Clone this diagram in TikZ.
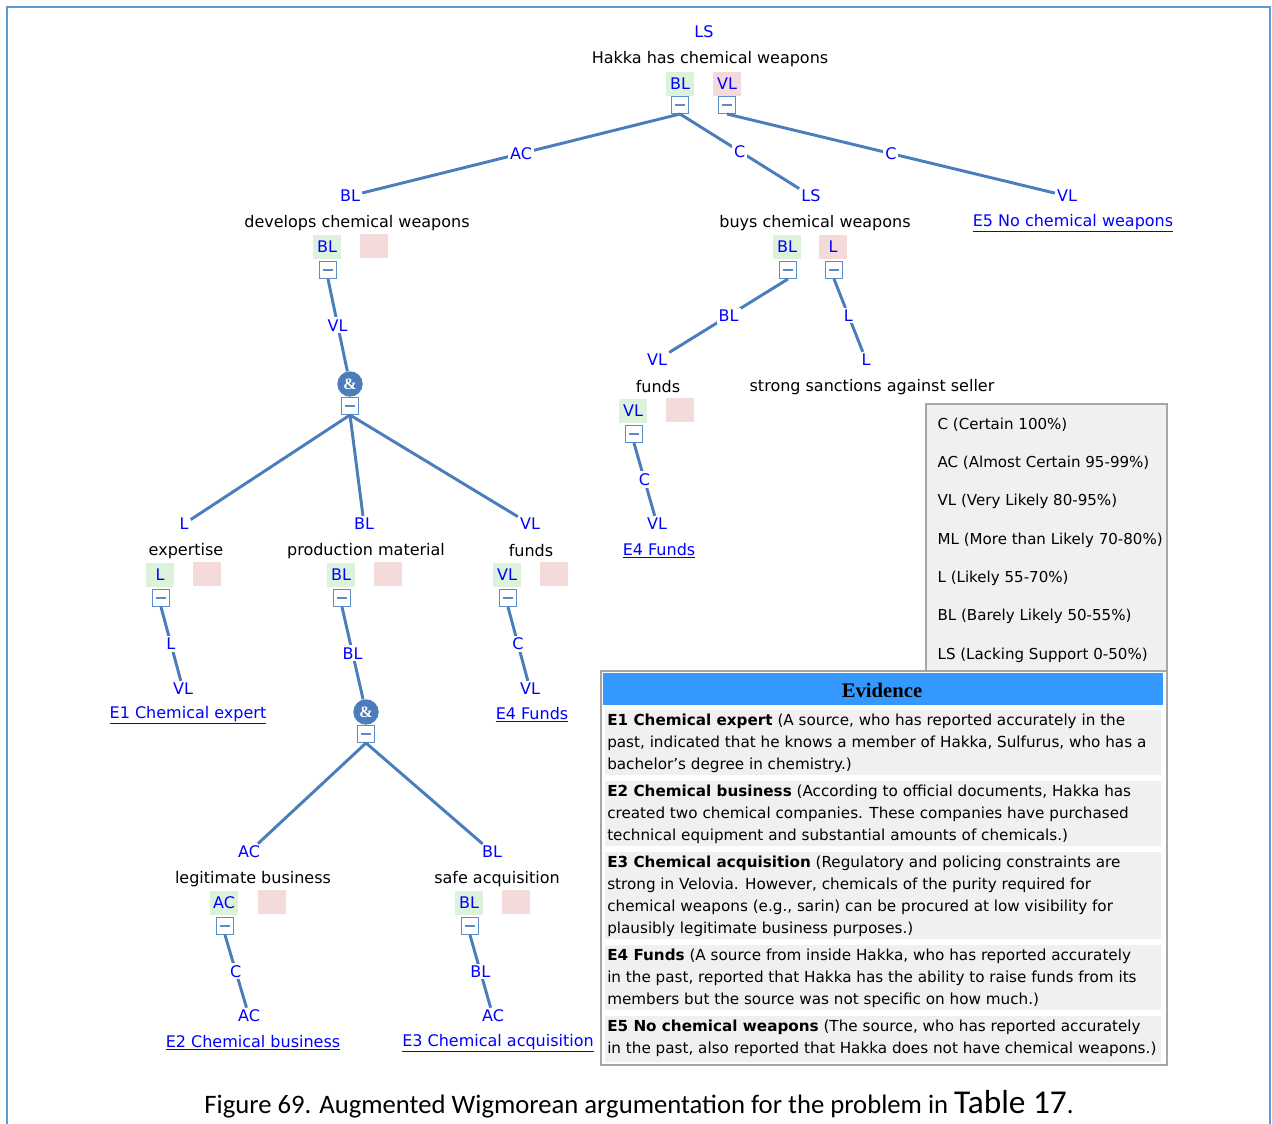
\documentclass[tikz,border=0pt]{standalone}
\usepackage{fontspec}
\setmainfont{DejaVu Sans}
\newfontfamily\capfont{Carlito}
\newfontfamily\headfont{Liberation Serif}
\usepackage{tikz}
\usetikzlibrary{positioning}
\definecolor{myline}{RGB}{74,126,187}
\definecolor{myfold}{RGB}{90,140,200}
\definecolor{myframe}{RGB}{91,155,213}
\definecolor{mygreen}{RGB}{221,242,219}
\definecolor{mypink}{RGB}{245,218,218}
\definecolor{mygray}{RGB}{240,240,240}
\definecolor{myhead}{RGB}{51,153,255}

\begin{document}
\begin{tikzpicture}[x=0.75pt, y=-0.75pt,
  every node/.style={font=\fontsize{12}{14}\selectfont, inner sep=1pt},
  rate/.style={text=blue, inner sep=1.5pt},
  claim/.style={text=black},
  okbox/.style={fill=mygreen, text=blue, minimum width=21pt,
                minimum height=18.5pt, inner sep=0pt},
  nobox/.style={okbox, fill=mypink},
  fold/.style={draw=myfold, line width=1pt, fill=white, minimum size=12.5pt,
               inner sep=0pt,
               path picture={\draw[myfold, line width=1pt]
                 ([xshift=-3.5pt]path picture bounding box.center) --
                 ([xshift=3.5pt]path picture bounding box.center);}},
  andnode/.style={circle, fill=myline, text=white, minimum size=19pt,
                  inner sep=0pt, font=\headfont\bfseries\fontsize{12}{12}\selectfont},
  link/.style={draw=myline, line width=2.2pt},
  mid/.style={fill=white, text=blue, inner sep=1.5pt},
  evid/.style={text=blue},
  evrow/.style={anchor=north west, align=left, inner sep=0pt,
                font=\fontsize{11.4}{16.3}\selectfont}]
  \useasboundingbox (0,0) rectangle (1272,1124);
  % frame
  \draw[myframe, line width=2.2pt] (7,1124) -- (7,7) -- (1270,7) -- (1270,1124);

  % root claim
  \node[rate]  (rootR)  at (704,32)  {LS};
  \node[claim] (root)   at (710,59)  {Hakka has chemical weapons};
  \node[okbox] (rootP)  at (680,84)  {BL};
  \node[nobox] (rootN)  at (727,84)  {VL};
  \node[fold]  (rootPf) at (680,105) {};
  \node[fold]  (rootNf) at (727,105) {};

  % develops
  \node[rate]  (devR)  at (350,196) {BL};
  \node[claim] (dev)   at (357,223) {develops chemical weapons};
  \node[okbox] (devP)  at (327,247) {BL};
  \node[nobox] (devN)  at (374,246) {};
  \node[fold]  (devPf) at (328,270) {};
  \node[andnode] (and1)  at (350,384) {\&};
  \node[fold]    (and1f) at (350,406) {};

  % buys
  \node[rate]  (buyR)  at (811,196) {LS};
  \node[claim] (buy)   at (815,223) {buys chemical weapons};
  \node[okbox] (buyP)  at (787,247) {BL};
  \node[nobox] (buyN)  at (833,247) {L};
  \node[fold]  (buyPf) at (788,270) {};
  \node[fold]  (buyNf) at (834,270) {};

  % E5
  \node[rate] (e5R) at (1067,196) {VL};
  \node[evid] (e5)  at (1073,223) {\underline{E5 No chemical weapons}};

  % funds (buys)
  \node[rate]  (fundR)  at (657,360) {VL};
  \node[claim] (fund)   at (658,387) {funds};
  \node[okbox] (fundP)  at (633,411) {VL};
  \node[nobox] (fundN)  at (680,410) {};
  \node[fold]  (fundPf) at (634,434) {};
  \node[rate]  (fundE)  at (657,524) {VL};
  \node[evid]  (e4b)    at (659,551) {\underline{E4 Funds}};

  % sanctions
  \node[rate]  (sancR) at (866,360) {L};
  \node[claim] (sanc)  at (872,387) {strong sanctions against seller};

  % expertise
  \node[rate]  (expR)  at (184,524) {L};
  \node[claim] (exp)   at (186,551) {expertise};
  \node[okbox] (expP)  at (160,575) {L};
  \node[nobox] (expN)  at (207,574) {};
  \node[fold]  (expPf) at (161,598) {};
  \node[rate]  (expE)  at (183,689) {VL};
  \node[evid]  (e1)    at (188,715) {\underline{E1 Chemical expert}};

  % production material
  \node[rate]  (prodR)  at (364,524) {BL};
  \node[claim] (prod)   at (366,551) {production material};
  \node[okbox] (prodP)  at (341,575) {BL};
  \node[nobox] (prodN)  at (388,574) {};
  \node[fold]  (prodPf) at (342,598) {};
  \node[andnode] (and2)  at (366,712) {\&};
  \node[fold]    (and2f) at (366,734) {};

  % funds (develops)
  \node[rate]  (fndR)  at (530,524) {VL};
  \node[claim] (fnd)   at (531,551) {funds};
  \node[okbox] (fndP)  at (507,575) {VL};
  \node[nobox] (fndN)  at (554,574) {};
  \node[fold]  (fndPf) at (508,598) {};
  \node[rate]  (fndE)  at (530,689) {VL};
  \node[evid]  (e4a)   at (532,715) {\underline{E4 Funds}};

  % legitimate business
  \node[rate]  (legR)  at (249,852)  {AC};
  \node[claim] (leg)   at (253,879)  {legitimate business};
  \node[okbox] (legP)  at (224,903)  {AC};
  \node[nobox] (legN)  at (272,902)  {};
  \node[fold]  (legPf) at (225,926)  {};
  \node[rate]  (legE)  at (249,1016) {AC};
  \node[evid]  (e2)    at (253,1043) {\underline{E2 Chemical business}};

  % safe acquisition
  \node[rate]  (safR)  at (492,852)  {BL};
  \node[claim] (saf)   at (497,879)  {safe acquisition};
  \node[okbox] (safP)  at (469,903)  {BL};
  \node[nobox] (safN)  at (516,902)  {};
  \node[fold]  (safPf) at (470,926)  {};
  \node[rate]  (safE)  at (493,1016) {AC};
  \node[evid]  (e3)    at (498,1043) {\underline{E3 Chemical acquisition}};

  % links
  \draw[link] (rootPf.south) -- node[mid]{AC} (devR);
  \draw[link] (rootPf.south) -- node[mid]{C}  (buyR);
  \draw[link] (rootNf.south) -- node[mid]{C}  (e5R);
  \draw[link] (devPf.south)  -- node[mid]{VL} (and1);
  \draw[link] (and1f.south)  -- (expR);
  \draw[link] (and1f.south)  -- (prodR);
  \draw[link] (and1f.south)  -- (fndR);
  \draw[link] (expPf.south)  -- node[mid]{L}  (expE);
  \draw[link] (prodPf.south) -- node[mid]{BL} (and2);
  \draw[link] (fndPf.south)  -- node[mid]{C}  (fndE);
  \draw[link] (and2f.south)  -- (legR);
  \draw[link] (and2f.south)  -- (safR);
  \draw[link] (legPf.south)  -- node[mid]{C}  (legE);
  \draw[link] (safPf.south)  -- node[mid]{BL} (safE);
  \draw[link] (buyPf.south)  -- node[mid]{BL} (fundR);
  \draw[link] (buyNf.south)  -- node[mid]{L}  (sancR);
  \draw[link] (fundPf.south) -- node[mid]{C}  (fundE);

  % scale legend
  \draw[draw=black!35, line width=1pt, fill=mygray] (926,404) rectangle (1167,672);
  \node[anchor=west, font=\fontsize{11.3}{13}\selectfont] (lgC)  at (936,425) {C (Certain 100\%)};
  \node[anchor=west, font=\fontsize{11.3}{13}\selectfont] (lgAC) at (936,463) {AC (Almost Certain 95-99\%)};
  \node[anchor=west, font=\fontsize{11.3}{13}\selectfont] (lgVL) at (936,501) {VL (Very Likely 80-95\%)};
  \node[anchor=west, font=\fontsize{11.3}{13}\selectfont] (lgML) at (936,540) {ML (More than Likely 70-80\%)};
  \node[anchor=west, font=\fontsize{11.3}{13}\selectfont] (lgL)  at (936,578) {L (Likely 55-70\%)};
  \node[anchor=west, font=\fontsize{11.3}{13}\selectfont] (lgBL) at (936,616) {BL (Barely Likely 50-55\%)};
  \node[anchor=west, font=\fontsize{11.3}{13}\selectfont] (lgLS) at (936,655) {LS (Lacking Support 0-50\%)};

  % evidence panel
  \draw[draw=black!35, line width=1.5pt, fill=white] (601,671) rectangle (1167,1065);
  \fill[myhead] (603,673) rectangle (1163,705);
  \node[font=\headfont\bfseries\fontsize{15.5}{17}\selectfont] (evh) at (882,690) {Evidence};
  \fill[mygray] (605,710) rectangle (1161,775);
  \node[evrow] (ev1) at (607,714) {\textbf{E1 Chemical expert} (A source, who has reported accurately in the\\
    past, indicated that he knows a member of Hakka, Sulfurus, who has a\\
    bachelor's degree in chemistry.)};
  \fill[mygray] (605,781) rectangle (1161,846);
  \node[evrow] (ev2) at (607,785) {\textbf{E2 Chemical business} (According to official documents, Hakka has\\
    created two chemical companies. These companies have purchased\\
    technical equipment and substantial amounts of chemicals.)};
  \fill[mygray] (605,852) rectangle (1161,939);
  \node[evrow] (ev3) at (607,856) {\textbf{E3 Chemical acquisition} (Regulatory and policing constraints are\\
    strong in Velovia. However, chemicals of the purity required for\\
    chemical weapons (e.g., sarin) can be procured at low visibility for\\
    plausibly legitimate business purposes.)};
  \fill[mygray] (605,945) rectangle (1161,1010);
  \node[evrow] (ev4) at (607,949) {\textbf{E4 Funds} (A source from inside Hakka, who has reported accurately\\
    in the past, reported that Hakka has the ability to raise funds from its\\
    members but the source was not specific on how much.)};
  \fill[mygray] (605,1016) rectangle (1161,1062);
  \node[evrow] (ev5) at (607,1020) {\textbf{E5 No chemical weapons} (The source, who has reported accurately\\
    in the past, also reported that Hakka does not have chemical weapons.)};

  % caption
  \node[font=\capfont\fontsize{20}{24}\selectfont] (cap) at (639,1104)
    {Figure 69. Augmented Wigmorean argumentation for the problem in {\fontsize{25}{28}\selectfont Table 17}.};
\end{tikzpicture}
\end{document}
